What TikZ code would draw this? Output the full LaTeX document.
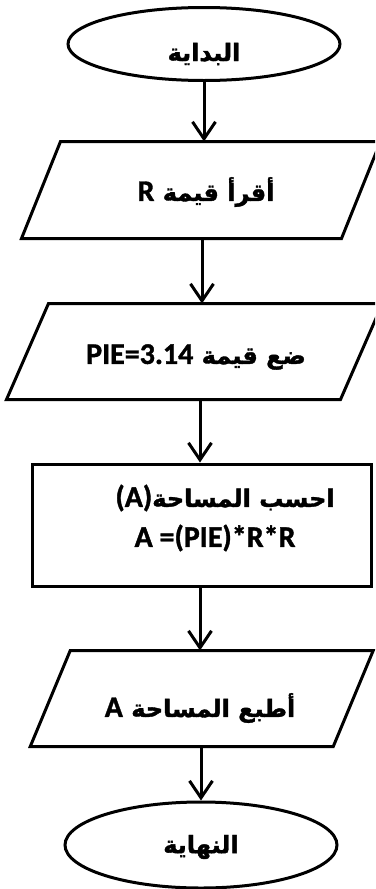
\documentclass[tikz,border=0pt]{standalone}
\usepackage{fontspec}
\usetikzlibrary{shapes.geometric,arrows.meta}
\TeXXeTstate=1
\setmainfont{Carlito}[BoldFeatures={FakeBold=1.2}]
\newfontfamily\arabicfont[Script=Arabic,BoldFeatures={FakeBold=1.5}]{DejaVu Sans}
\newcommand\ar[1]{{\arabicfont\bfseries\fontsize{24pt}{29pt}\selectfont\beginR #1\endR}}
\newcommand\la[1]{{\rmfamily\bfseries\fontsize{30pt}{36pt}\selectfont\beginL #1\endL}}
% slanted outline around a plain rectangular node
\newcommand\skewbox[2]{%
  \draw ([xshift=#2]#1.north west) -- ([xshift=#2]#1.north east)
     -- ([xshift=-#2]#1.south east) -- ([xshift=-#2]#1.south west) -- cycle;}
\begin{document}
\begin{tikzpicture}[x=1pt,y=-1pt,line width=3pt,
  term/.style={ellipse,draw,inner sep=0pt},
  iobox/.style={rectangle,inner sep=0pt},
  procbox/.style={rectangle,draw,inner sep=0pt},
  txt/.style={inner sep=0pt},
  arr/.style={-{Straight Barb[length=17pt,width=23pt]}}]
\fill[white] (0,0) rectangle (375,889);
\clip (0,0) rectangle (375,889);

% outlines
\node[term,minimum width=272pt,minimum height=73pt] (start) at (204,44) {};
\node[iobox,minimum width=317pt,minimum height=94pt] (read) at (201,190) {};
\skewbox{read}{19.5pt}
\node[iobox,minimum width=331pt,minimum height=93pt] (setpi) at (194.5,351.5) {};
\skewbox{setpi}{21pt}
\node[procbox,minimum width=339pt,minimum height=122pt] (calc) at (201.5,525) {};
\node[iobox,minimum width=300pt,minimum height=93pt] (print) at (201.75,698.5) {};
\skewbox{print}{20pt}
\node[term,minimum width=272pt,minimum height=86pt] (stop) at (201,845) {};

% labels
\node[txt] (startT) at (204,54) {\ar{البداية}};
\node[txt] (readT)  at (206,192) {\ar{أقرأ قيمة \la{R}}};
\node[txt] (setpiT) at (196,357) {\ar{ضع قيمة \la{PIE=3.14}}};
\node[txt] (calcA)  at (225,498) {\ar{احسب المساحة\la{(A)}}};
\node[txt] (calcB)  at (215,538) {\la{A =(PIE)*R*R}};
\node[txt] (printT) at (200,708) {\ar{أطبع المساحة \la{A}}};
\node[txt] (stopT)  at (201,847) {\ar{النهاية}};

% flow
\draw[arr] (start.south) -- (start.south |- read.north);
\draw[arr] ([xshift=1pt]read.south) -- ([xshift=1pt]read.south |- setpi.north);
\draw[arr] ([xshift=5.5pt]setpi.south) -- ([xshift=5.5pt]setpi.south |- calc.north);
\draw[arr] ([xshift=-1.5pt]calc.south) -- ([xshift=-1.5pt]calc.south |- print.north);
\draw[arr] (stop.north |- print.south) -- (stop.north);
\end{tikzpicture}
\end{document}
